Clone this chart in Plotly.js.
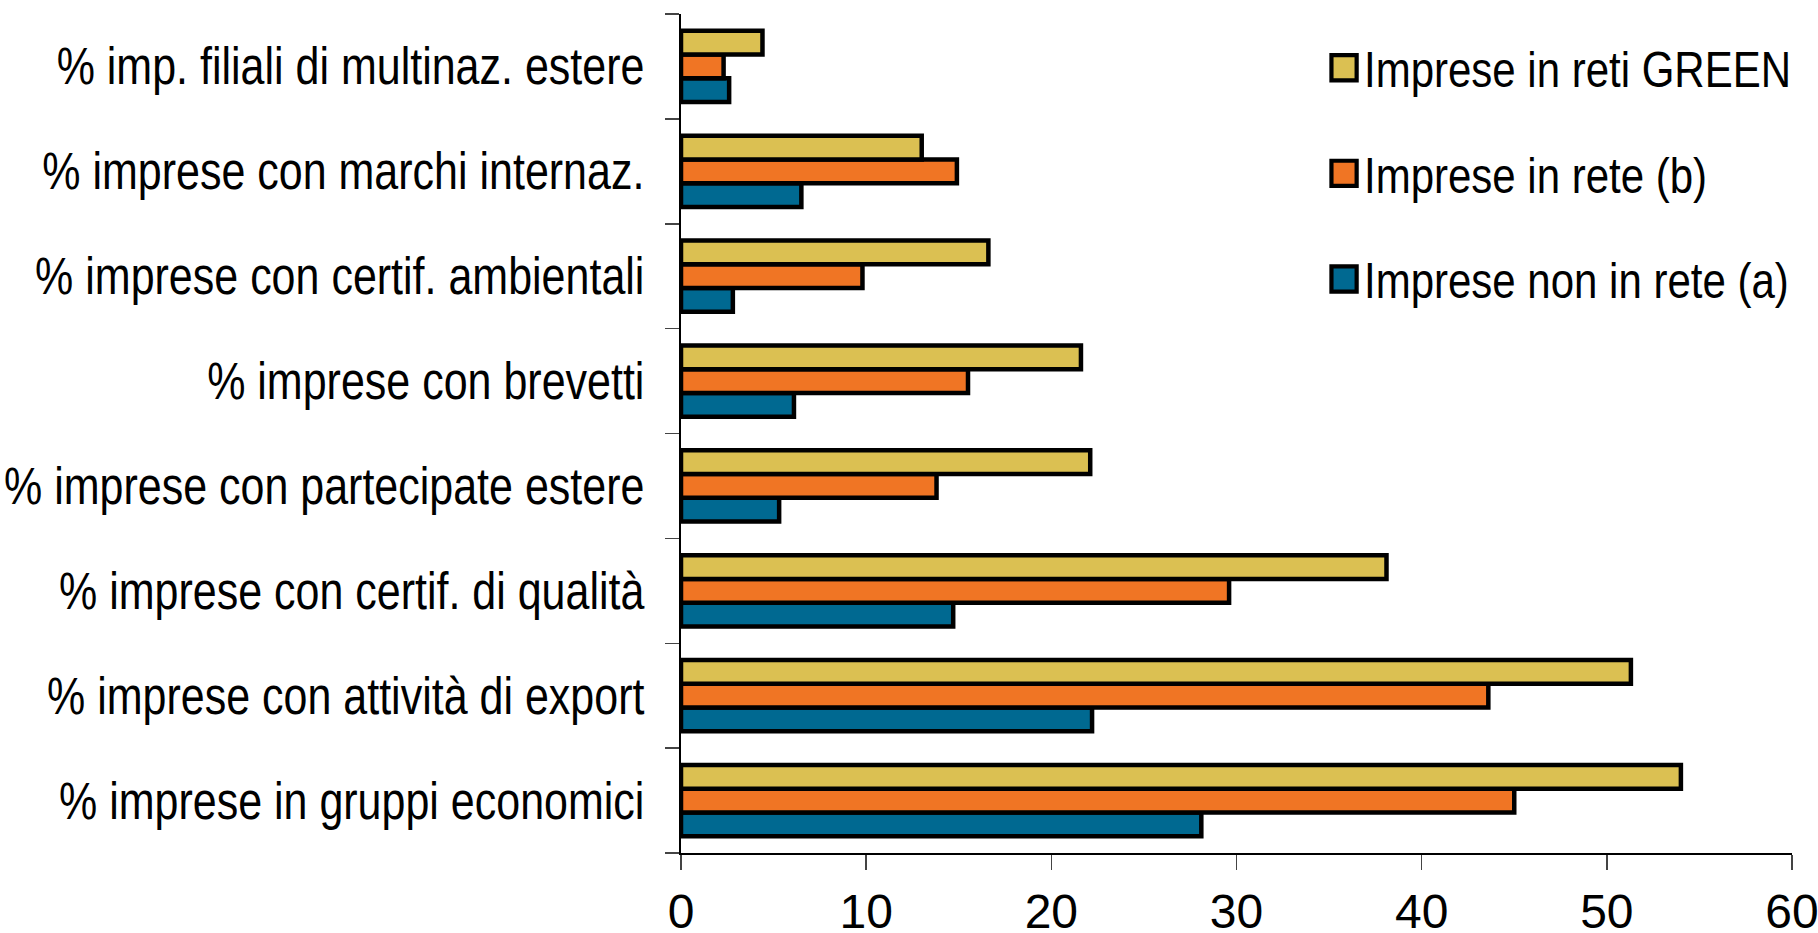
<!DOCTYPE html>
<html>
<head>
<meta charset="utf-8">
<script src="https://cdn.plot.ly/plotly-3.0.1.min.js"></script>
<style>
html,body{margin:0;padding:0;background:#fff;}
#chart{width:1818px;height:933px;}
</style>
</head>
<body>
<div id="chart"></div>
<script>
// Categories (bottom to top)
const categories = [
  "% imprese in gruppi economici",
  "% imprese con attività di export",
  "% imprese con certif. di qualità",
  "% imprese con partecipate estere",
  "% imprese con brevetti",
  "% imprese con certif. ambientali",
  "% imprese con marchi internaz.",
  "% imp. filiali di multinaz. estere"
];
const seriesNames = ["Imprese non in rete (a)", "Imprese in rete (b)", "Imprese in reti GREEN"];
const nonInRete = [28.1, 22.2, 14.7, 5.3, 6.1, 2.8, 6.5, 2.6];
const inRete    = [45.0, 43.6, 29.6, 13.8, 15.5, 9.8, 14.9, 2.3];
const retiGreen = [54.0, 51.3, 38.1, 22.1, 21.6, 16.6, 13.0, 4.4];
const colors = ["#006991", "#F07524", "#DBC052"];
const xTicks = [0, 10, 20, 30, 40, 50, 60];

const FONT = "Liberation Sans, Arial, sans-serif";
const values = [nonInRete, inRete, retiGreen];

const traces = values.map((v, i) => ({
  type: "bar",
  orientation: "h",
  name: seriesNames[i],
  legendgroup: "g" + i,
  legendrank: 3 - i,
  x: v,
  y: categories,
  marker: {color: colors[i], line: {color: "#000", width: 4.5}},
  hoverinfo: "x+name"
}));

const layout = {
  width: 1818, height: 933,
  margin: {l: 681, r: 26, t: 14, b: 80, pad: 0, autoexpand: false},
  paper_bgcolor: "#fff", plot_bgcolor: "#fff",
  barmode: "group",
  bargap: 0.32, bargroupgap: 0,
  font: {family: FONT, size: 43, color: "#000"},
  showlegend: true,
  legend: {
    xref: "container", yref: "container",
    x: 0.7283, xanchor: "left", y: 0.9636, yanchor: "top",
    traceorder: "grouped", tracegroupgap: 48,
    font: {family: FONT, size: 42, color: "#000"},
    bgcolor: "rgba(0,0,0,0)"
  },
  xaxis: {
    range: [0, 60], tickvals: xTicks, ticktext: xTicks.map(String),
    showgrid: false, zeroline: false,
    showline: true, linecolor: "#000", linewidth: 2,
    ticks: "outside", ticklen: 15, tickwidth: 1.5, tickcolor: "#444",
    ticklabelstandoff: 0, ticklabeloverflow: "allow",
    tickfont: {family: FONT, size: 48, color: "#000"},
    fixedrange: true
  },
  yaxis: {
    type: "category", categoryorder: "array", categoryarray: categories,
    showgrid: false, zeroline: false,
    showline: true, linecolor: "#000", linewidth: 2,
    ticks: "outside", ticklen: 14, tickwidth: 1.5, tickcolor: "#444",
    tickson: "boundaries", ticklabelstandoff: 26,
    tickfont: {family: FONT, size: 43, color: "#000"},
    fixedrange: true
  }
};

function stretchText(selector, s) {
  document.querySelectorAll(selector).forEach(function(t){
    var bb = t.getBBox();
    var cy = bb.y + bb.height / 2;
    var tr = t.getAttribute("transform") || "";
    t.setAttribute("transform", tr + " translate(0," + cy + ") scale(1," + s + ") translate(0," + (-cy) + ")");
  });
}

Plotly.newPlot("chart", traces, layout, {displayModeBar: false, staticPlot: true}).then(function(gd){
  // enlarge legend swatches to match the reference
  document.querySelectorAll("#chart .legendpoints path").forEach(function(p){
    var t = p.getAttribute("transform") || "";
    p.setAttribute("transform", t + " scale(2.1)");
    p.style.strokeWidth = "2px";
  });
  // the reference uses a condensed (tall, narrow) typeface for labels and legend
  stretchText("#chart .ytick text", 1.2);
  stretchText("#chart .legendtext", 1.2);
});
</script>
</body>
</html>
